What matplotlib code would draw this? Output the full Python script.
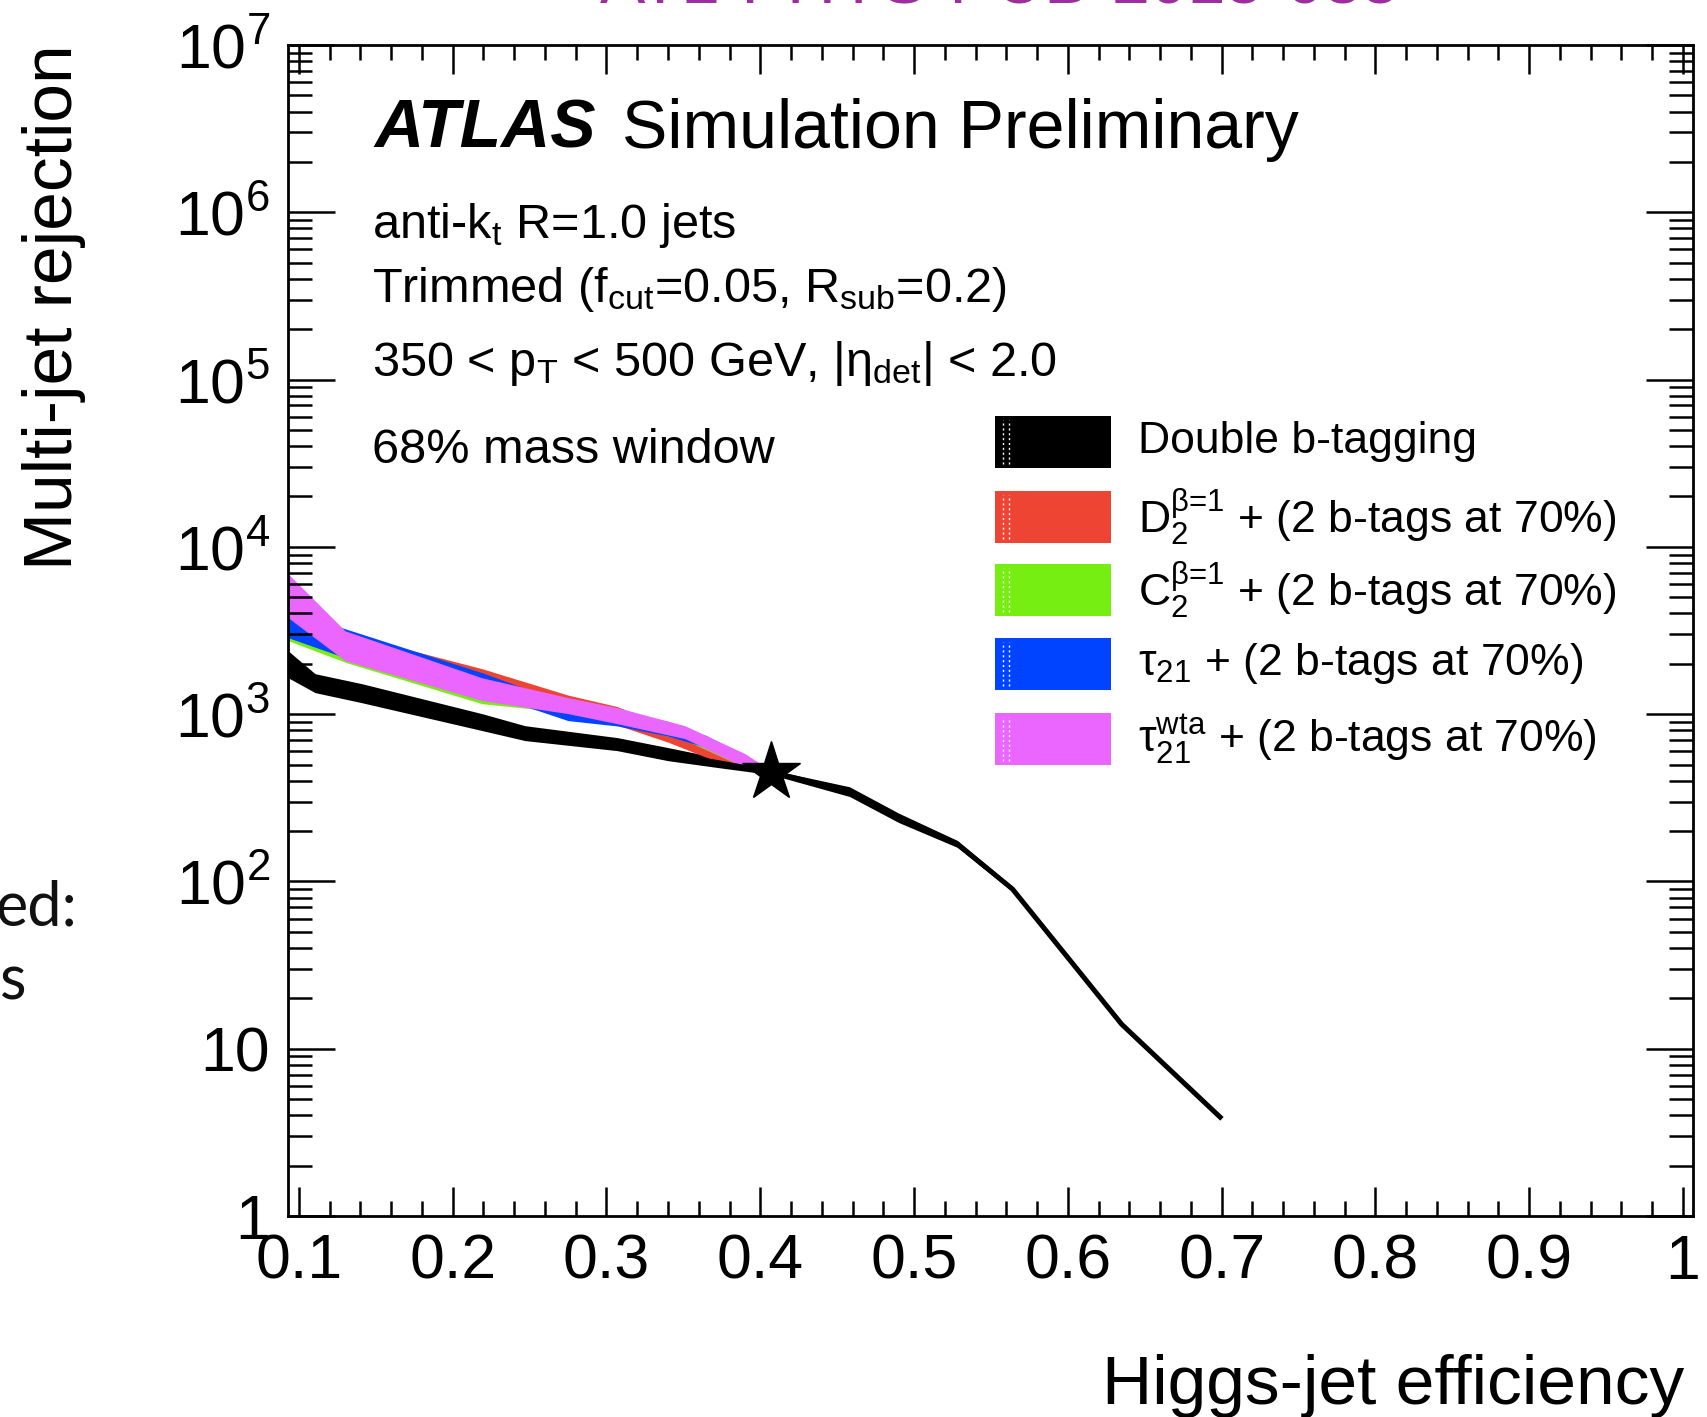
import numpy as np
import matplotlib
matplotlib.use('Agg')
import matplotlib.pyplot as plt
from matplotlib.patches import Rectangle
from matplotlib.lines import Line2D
from matplotlib.ticker import MultipleLocator, LogLocator, NullFormatter

plt.rcParams['font.family'] = ['Liberation Sans', 'DejaVu Sans']
plt.rcParams['mathtext.fontset'] = 'custom'
plt.rcParams['mathtext.rm'] = 'Liberation Sans'
plt.rcParams['mathtext.it'] = 'Liberation Sans:italic'
plt.rcParams['mathtext.bf'] = 'Liberation Sans:bold'
plt.rcParams['mathtext.sf'] = 'Liberation Sans'

W, H = 1708, 1417

# Double b-tagging (centre line and band edges)
bx = [0.093, 0.1105, 0.141, 0.219, 0.247, 0.307, 0.340, 0.372, 0.407,
      0.458, 0.490, 0.528, 0.564, 0.635, 0.699]
by = [1990, 1530, 1335, 897, 770, 662, 577, 514, 450,
      345, 240, 168, 90, 14, 3.9]
by_lo = [1650, 1345, 1170, 798, 695, 605, 527, 480, 435,
         322, 225, 160, 87, 13.6, 3.8]
by_hi = [2390, 1745, 1520, 1007, 853, 724, 631, 550, 465,
         368, 256, 176, 93, 14.4, 4.0]

# D2 + 2 b-tags
rx = [0.0928, 0.0935, 0.130, 0.219, 0.275, 0.307, 0.340, 0.372, 0.407]
ry = [4000, 3900, 2600, 1600, 1150, 970, 755, 575, 450]
ry_lo = [3000, 3000, 2200, 1380, 1020, 860, 680, 520, 435]
ry_hi = [22000, 4800, 3050, 1870, 1300, 1110, 840, 640, 465]

# C2 + 2 b-tags
gx = [0.093, 0.131, 0.219, 0.250, 0.307, 0.351, 0.390, 0.407]
gy = [3050, 2340, 1290, 1200, 950, 760, 515, 450]
gy_lo = [2750, 2030, 1155, 1080, 870, 700, 480, 440]
gy_hi = [3400, 2700, 1450, 1330, 1040, 825, 550, 460]

# tau21 + 2 b-tags
ux = [0.093, 0.130, 0.219, 0.275, 0.307, 0.340, 0.365, 0.390, 0.407]
uy = [3500, 2650, 1550, 1025, 945, 820, 685, 525, 450]
uy_lo = [2864, 2175, 1360, 915, 850, 740, 631, 495, 440]
uy_hi = [4265, 3240, 1770, 1150, 1050, 905, 744, 560, 460]

# tau21 wta + 2 b-tags
mx = [0.093, 0.130, 0.219, 0.275, 0.307, 0.351, 0.390, 0.407]
my = [5100, 2560, 1410, 1125, 980, 780, 528, 450]
my_lo = [3770, 2086, 1205, 1007, 877, 714, 480, 440]
my_hi = [6900, 3150, 1650, 1255, 1094, 853, 581, 460]

star_x = [0.407]
star_y = [450]

labels = ['Double b-tagging',
          r'D$_{2}^{\text{β=1}}$ + (2 b-tags at 70%)',
          r'C$_{2}^{\text{β=1}}$ + (2 b-tags at 70%)',
          r'τ$_{21}$ + (2 b-tags at 70%)',
          r'τ$_{21}^{\text{wta}}$ + (2 b-tags at 70%)']
colors = ['#000000', '#ee4433', '#77ee11', '#0044ff', '#ea66ff']

xticks = [0.1, 0.2, 0.3, 0.4, 0.5, 0.6, 0.7, 0.8, 0.9, 1.0]
xticklabels = ['0.1', '0.2', '0.3', '0.4', '0.5', '0.6', '0.7', '0.8', '0.9', '1']
yticks = [1, 10, 1e2, 1e3, 1e4, 1e5, 1e6, 1e7]
yticklabels = ['1', '10', r'$10^{2}$', r'$10^{3}$', r'$10^{4}$', r'$10^{5}$',
               r'$10^{6}$', r'$10^{7}$']


def px(x):
    return x / W


def py(y):
    return 1 - y / H


fig = plt.figure(figsize=(W / 100, H / 100), dpi=100)
ax = fig.add_axes([px(288), py(1216), (1693 - 288) / W, (1216 - 45) / H])
ax.set_yscale('log')
ax.set_xlim(0.0929, 1.0065)
ax.set_ylim(1, 1e7)

series = [(bx, by_lo, by_hi), (rx, ry_lo, ry_hi), (gx, gy_lo, gy_hi),
          (ux, uy_lo, uy_hi), (mx, my_lo, my_hi)]
for (x, lo, hi), c in zip(series, colors):
    ax.fill_between(x, lo, hi, color=c, lw=0)
    if c == '#000000':
        ax.plot(x, by, color=c, lw=3.6)

ax.plot(star_x, star_y, marker='*', ms=44, color='black', ls='none', zorder=5)

# axes, ticks
ax.set_xticks(xticks, xticklabels)
ax.xaxis.set_minor_locator(MultipleLocator(0.02))
ax.set_yticks(yticks, yticklabels)
ax.yaxis.set_minor_locator(LogLocator(base=10, subs=[2, 3, 4, 5, 6, 7, 8, 9], numticks=100))
ax.yaxis.set_minor_formatter(NullFormatter())
ax.tick_params(axis='both', which='both', direction='in', top=True, right=True,
               labelsize=45, width=1.8)
ax.tick_params(axis='x', which='major', length=21, pad=12)
ax.tick_params(axis='x', which='minor', length=10.5)
ax.tick_params(axis='y', which='major', length=34, pad=13)
ax.tick_params(axis='y', which='minor', length=17)
for s in ax.spines.values():
    s.set_linewidth(2)

fig.text(px(1684), py(1404), 'Higgs-jet efficiency', ha='right', va='baseline', fontsize=50)
fig.text(px(22), py(44), 'Multi-jet rejection', rotation=90, ha='left', va='top', fontsize=50)

# labels inside the frame
fig.text(px(374), py(148), 'ATLAS', fontsize=49, fontweight='bold', fontstyle='italic',
         va='baseline')
fig.text(px(622), py(148), 'Simulation Preliminary', fontsize=49, va='baseline')
fig.text(px(372), py(238), r'anti-k$_{\mathrm{t}}$ R=1.0 jets', fontsize=35, va='baseline')
fig.text(px(372), py(302), r'Trimmed (f$_{\mathrm{cut}}$=0.05, R$_{\mathrm{sub}}$=0.2)',
         fontsize=35, va='baseline')
fig.text(px(372), py(376), r'350 < p$_{\mathrm{T}}$ < 500 GeV, |η$_{\mathrm{det}}$| < 2.0',
         fontsize=35, va='baseline')
fig.text(px(372), py(463), '68% mass window', fontsize=35, va='baseline')

# legend
row_y = [442, 517, 590, 664, 739]
for lab, c, yc in zip(labels, colors, row_y):
    fig.add_artist(Rectangle((px(995), py(yc + 26)), 116 / W, 52 / H, facecolor=c,
                             edgecolor='none', transform=fig.transFigure))
    for xw in (1003, 1009):
        fig.add_artist(Line2D([px(xw), px(xw)], [py(yc + 22), py(yc - 22)], color='white',
                              lw=1.0, ls=(0, (1.5, 2.0)), transform=fig.transFigure))
    fig.text(px(1138), py(yc), lab, fontsize=32, va='center')

# cut-off slide texts
fig.text(px(1000), py(3), 'ATL-PHYS-PUB-2015-035', ha='center', va='baseline',
         fontsize=49, color='#9c2f9e')
fig.text(px(77), py(925), 'ed:', ha='right', va='baseline', fontsize=44, color='#111111',
         family=['Lato', 'Liberation Sans'])
fig.text(px(26), py(1000), 's', ha='right', va='baseline', fontsize=44, color='#111111',
         family=['Lato', 'Liberation Sans'])

fig.savefig('out.png', dpi=100, facecolor='white')
